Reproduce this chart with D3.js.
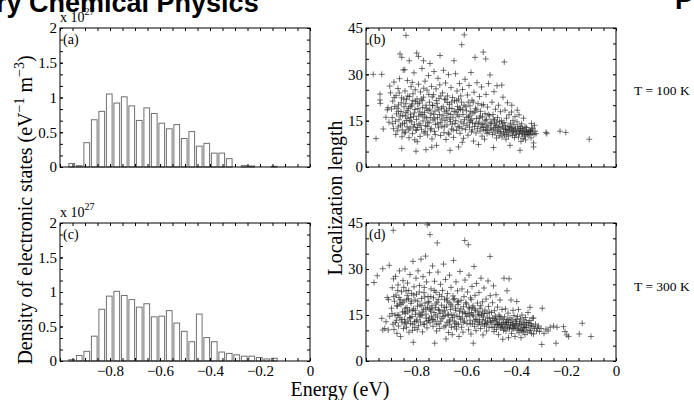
<!DOCTYPE html>
<html>
<head>
<meta charset="utf-8">
<script src="https://cdn.jsdelivr.net/npm/d3@7"></script>
<style>
  body { margin: 0; background: #fff; }
  svg { display: block; }
</style>
</head>
<body>
<svg></svg>
<script>
// histogram bin centres (eV)
let binCenters = [-0.953, -0.923, -0.893, -0.863, -0.833, -0.803, -0.773, -0.743, -0.713, -0.683,
    -0.653, -0.623, -0.593, -0.563, -0.533, -0.503, -0.473, -0.443, -0.413, -0.383,
    -0.353, -0.323, -0.293, -0.263, -0.233, -0.203, -0.173, -0.143];

// density of states, x 10^27, T = 100 K
let dosA = [0.05, 0.02, 0.35, 0.68, 0.80, 1.05, 0.92, 1.01, 0.88, 0.67,
    0.85, 0.77, 0.63, 0.55, 0.61, 0.41, 0.51, 0.30, 0.34, 0.20,
    0.20, 0.12, 0, 0.02, 0.015, 0, 0, 0.01];

// density of states, x 10^27, T = 300 K
let dosC = [0.02, 0.08, 0.14, 0.36, 0.75, 0.94, 1.01, 0.95, 0.89, 0.78,
    0.83, 0.64, 0.65, 0.73, 0.55, 0.43, 0.28, 0.68, 0.34, 0.28,
    0.13, 0.11, 0.09, 0.07, 0.07, 0.05, 0.03, 0.04];

// [energy, localization length], T = 100 K
let locB = [
    [-0.971,30.0],[-0.937,30.0],[-0.96,9.2],[-0.931,12.3],[-0.944,23.6],[-0.944,21.7],[-0.943,20.6],[-0.915,18.5],[-0.92,16.1],[-0.912,19.2],[-0.905,26.2],[-0.908,14.5],[-0.902,24.0],
    [-0.898,18.8],[-0.895,16.0],[-0.893,21.3],[-0.89,12.4],[-0.888,27.5],[-0.885,19.6],[-0.882,14.8],[-0.88,23.1],[-0.878,17.2],[-0.875,11.7],[-0.872,25.4],[-0.87,20.1],[-0.868,15.3],[-0.866,28.6],[-0.862,13.5],[-0.86,18.0],[-0.858,22.4],[-0.856,9.8],[-0.853,16.7],[-0.851,31.4],[-0.864,36.6],[-0.857,35.5],[-0.857,6.0],[-0.84,42.6],[-0.855,12.0],[-0.87,17.9],
    [-0.848,19.5],[-0.846,14.2],[-0.844,24.6],[-0.842,11.3],[-0.84,17.6],[-0.838,21.9],[-0.836,13.0],[-0.834,28.0],[-0.832,15.8],[-0.83,19.0],[-0.828,9.5],[-0.827,34.4],[-0.826,22.8],[-0.824,12.6],[-0.822,17.1],[-0.82,26.0],[-0.818,14.6],[-0.816,20.4],[-0.814,10.8],[-0.812,23.7],[-0.81,16.3],[-0.808,30.5],[-0.806,13.7],[-0.804,18.6],[-0.802,21.2],[-0.8,5.1],[-0.8,11.9],[-0.845,31.5],[-0.835,18.2],[-0.825,15.0],[-0.815,27.4],[-0.805,8.8],[-0.843,16.5],[-0.817,19.8],
    [-0.798,15.4],[-0.797,36.9],[-0.796,22.0],[-0.794,12.8],[-0.79,35.8],[-0.792,18.9],[-0.79,26.8],[-0.788,14.0],[-0.786,20.7],[-0.784,9.9],[-0.782,24.3],[-0.78,16.9],[-0.778,12.2],[-0.776,31.9],[-0.774,19.3],[-0.772,14.9],[-0.77,34.4],[-0.77,22.6],[-0.768,11.0],[-0.766,17.7],[-0.764,27.8],[-0.762,13.4],[-0.76,5.6],[-0.76,20.0],[-0.758,15.9],[-0.756,24.9],[-0.754,10.4],[-0.752,18.3],[-0.75,29.6],[-0.785,17.8],[-0.775,21.5],[-0.765,16.2],[-0.755,13.1],[-0.795,8.2],
    [-0.748,14.3],[-0.746,21.0],[-0.744,33.5],[-0.742,12.0],[-0.74,17.4],[-0.738,26.1],[-0.736,9.1],[-0.734,19.9],[-0.732,15.2],[-0.73,23.4],[-0.728,30.9],[-0.726,11.5],[-0.724,18.1],[-0.722,13.8],[-0.72,25.3],[-0.718,7.0],[-0.716,20.6],[-0.714,16.0],[-0.712,28.7],[-0.71,12.7],[-0.708,22.2],[-0.706,17.0],[-0.704,36.1],[-0.703,14.4],[-0.702,10.2],[-0.745,18.7],[-0.735,22.7],[-0.725,15.6],[-0.715,19.4],[-0.705,26.6],[-0.737,6.4],
    [-0.698,19.0],[-0.696,13.2],[-0.694,24.0],[-0.692,16.6],[-0.69,31.3],[-0.688,11.1],[-0.686,21.8],[-0.684,15.0],[-0.682,27.2],[-0.68,8.9],[-0.678,18.4],[-0.676,13.6],[-0.674,23.0],[-0.672,17.3],[-0.67,29.9],[-0.668,10.6],[-0.666,20.3],[-0.664,5.4],[-0.662,14.7],[-0.66,25.7],[-0.658,12.3],[-0.656,18.9],[-0.654,22.5],[-0.652,16.1],[-0.648,34.4],[-0.65,9.6],[-0.685,17.9],[-0.675,20.9],[-0.665,15.5],[-0.655,13.9],
    [-0.646,21.4],[-0.644,14.1],[-0.642,30.2],[-0.64,17.8],[-0.638,11.8],[-0.636,24.6],[-0.634,19.6],[-0.632,13.0],[-0.63,6.5],[-0.63,22.0],[-0.628,16.4],[-0.626,27.0],[-0.624,10.9],[-0.622,18.6],[-0.62,14.6],[-0.618,21.0],[-0.617,39.6],[-0.616,12.5],[-0.614,25.1],[-0.612,17.0],[-0.61,9.3],[-0.607,42.8],[-0.608,20.0],[-0.606,15.3],[-0.604,28.4],[-0.602,12.1],[-0.635,16.9],[-0.625,19.1],[-0.615,8.0],
    [-0.598,18.2],[-0.596,13.5],[-0.594,23.3],[-0.592,10.3],[-0.59,16.3],[-0.588,26.4],[-0.586,12.9],[-0.584,19.8],[-0.582,15.0],[-0.58,30.6],[-0.578,11.4],[-0.576,21.6],[-0.574,14.3],[-0.572,17.5],[-0.57,8.4],[-0.568,24.2],[-0.566,13.1],[-0.564,35.5],[-0.562,19.0],[-0.56,11.0],[-0.558,15.7],[-0.556,27.3],[-0.554,12.4],[-0.552,20.5],[-0.55,7.3],[-0.585,16.8],[-0.575,12.0],[-0.565,17.8],
    [-0.548,14.5],[-0.546,22.8],[-0.544,11.6],[-0.542,18.0],[-0.54,13.0],[-0.538,25.9],[-0.536,10.0],[-0.534,16.2],[-0.531,37.2],[-0.532,12.8],[-0.53,20.2],[-0.528,14.0],[-0.526,9.0],[-0.524,17.3],[-0.521,35.0],[-0.522,12.0],[-0.52,23.5],[-0.518,15.4],[-0.516,10.8],[-0.514,19.4],[-0.512,13.5],[-0.51,27.0],[-0.508,11.2],[-0.506,16.6],[-0.504,29.8],[-0.502,12.6],[-0.545,15.9],[-0.535,13.8],[-0.515,11.9],
    [-0.498,14.1],[-0.496,21.0],[-0.494,10.5],[-0.492,17.0],[-0.49,6.3],[-0.49,12.3],[-0.488,24.4],[-0.486,15.2],[-0.484,11.0],[-0.482,18.7],[-0.48,13.4],[-0.478,9.4],[-0.476,26.3],[-0.474,16.0],[-0.472,12.0],[-0.47,20.0],[-0.468,10.1],[-0.466,14.7],[-0.464,12.9],[-0.462,17.9],[-0.46,11.5],[-0.457,26.5],[-0.458,15.0],[-0.456,9.7],[-0.454,13.0],[-0.452,22.6],[-0.45,11.0],[-0.447,34.0],[-0.485,13.9],[-0.475,11.6],
    [-0.448,14.4],[-0.446,10.4],[-0.444,18.4],[-0.442,12.2],[-0.44,9.0],[-0.438,15.8],[-0.436,11.3],[-0.434,20.8],[-0.432,13.1],[-0.43,10.0],[-0.428,16.9],[-0.426,12.0],[-0.424,7.0],[-0.422,14.2],[-0.42,11.0],[-0.417,20.0],[-0.418,17.8],[-0.416,12.8],[-0.414,10.2],[-0.412,15.0],[-0.41,11.6],[-0.408,13.7],[-0.406,9.5],[-0.404,16.3],[-0.402,12.4],[-0.44,11.9],
    [-0.398,11.0],[-0.395,18.4],[-0.396,14.6],[-0.392,12.0],[-0.39,9.7],[-0.388,16.9],[-0.386,10.9],[-0.384,5.4],[-0.384,13.2],[-0.382,11.8],[-0.38,8.3],[-0.378,14.0],[-0.376,10.6],[-0.374,12.5],[-0.372,9.2],[-0.37,15.8],[-0.368,11.3],[-0.366,10.0],[-0.364,13.0],[-0.362,8.8],[-0.36,11.7],[-0.358,12.8],[-0.355,10.4],[-0.352,11.1],
    [-0.348,12.0],[-0.345,10.7],[-0.342,11.5],[-0.34,9.4],[-0.338,14.1],[-0.335,11.0],[-0.333,12.6],[-0.33,7.8],[-0.33,6.5],[-0.328,10.5],[-0.326,13.5],[-0.324,11.6],[-0.32,10.8],
    [-0.277,10.8],[-0.28,11.2],[-0.224,11.6],[-0.201,11.2],[-0.107,9.0],
    [-0.893,14.0],[-0.887,22.5],[-0.881,10.5],[-0.876,19.0],[-0.871,13.0],[-0.867,24.0],[-0.863,16.5],[-0.859,20.8],[-0.854,14.0],[-0.849,22.0],[-0.847,11.0],[-0.841,20.5],[-0.839,15.0],[-0.833,23.0],[-0.829,12.0],[-0.823,19.5],[-0.821,16.0],[-0.813,21.5],[-0.811,13.0],[-0.807,17.5],
    [-0.803,25.0],[-0.799,12.0],[-0.793,20.5],[-0.789,16.5],[-0.783,13.5],[-0.779,22.0],[-0.773,17.0],[-0.769,25.5],[-0.763,11.5],[-0.759,19.0],[-0.753,14.5],[-0.749,23.5],[-0.743,16.0],[-0.739,12.5],[-0.733,20.0],[-0.729,17.0],[-0.723,10.5],[-0.719,21.5],[-0.713,14.0],[-0.709,18.5],
    [-0.701,23.0],[-0.697,15.5],[-0.691,19.5],[-0.687,13.0],[-0.681,22.0],[-0.677,16.0],[-0.671,11.0],[-0.667,19.0],[-0.661,17.0],[-0.657,21.0],[-0.651,12.0],[-0.647,18.0],[-0.641,15.0],[-0.637,21.5],[-0.631,18.5],[-0.627,13.0],[-0.621,23.0],[-0.613,18.5],[-0.609,14.0],[-0.601,19.5],
    [-0.597,16.0],[-0.591,21.0],[-0.587,14.5],[-0.581,18.0],[-0.577,15.5],[-0.571,21.0],[-0.563,14.0],[-0.557,18.5],[-0.551,14.0],[-0.543,16.5],[-0.537,20.0],[-0.529,12.0],[-0.523,15.0],[-0.517,13.0],[-0.511,17.0],[-0.503,14.5],[-0.497,12.0],[-0.491,15.5],[-0.483,12.8],[-0.477,14.5],
    [-0.469,13.0],[-0.463,11.0],[-0.455,14.0],[-0.449,12.5],[-0.443,13.5],[-0.437,10.5],[-0.431,12.0],[-0.425,13.0],[-0.419,12.5],[-0.413,11.5],[-0.407,12.0],[-0.401,10.5],[-0.393,13.0],[-0.387,11.5],[-0.381,12.5],[-0.375,11.0],[-0.369,12.0],[-0.363,10.5],[-0.357,11.5],[-0.349,10.5],[-0.341,11.8],[-0.337,12.3]
];

// [energy, localization length], T = 300 K
let locD = [
    [-0.968,25.6],[-0.955,27.8],[-0.933,30.1],[-0.907,31.2],[-0.937,13.9],[-0.933,10.1],[-0.911,10.1],[-0.915,20.7],[-0.91,20.0],[-0.92,12.8],[-0.905,14.6],[-0.925,10.6],
    [-0.891,42.6],[-0.898,17.2],[-0.895,23.9],[-0.892,12.0],[-0.89,26.8],[-0.888,10.3],[-0.886,19.5],[-0.884,15.0],[-0.882,27.6],[-0.88,21.5],[-0.878,13.3],[-0.876,9.0],[-0.874,17.9],[-0.872,24.8],[-0.87,11.4],[-0.868,20.7],[-0.866,29.4],[-0.864,14.1],[-0.862,8.0],[-0.86,18.4],[-0.858,22.6],[-0.856,12.7],[-0.854,16.0],[-0.852,26.2],[-0.85,10.6],[-0.875,14.9],[-0.865,18.9],
    [-0.848,19.6],[-0.846,13.6],[-0.844,30.0],[-0.842,15.5],[-0.84,22.9],[-0.838,11.0],[-0.836,17.4],[-0.834,25.4],[-0.832,13.0],[-0.83,20.3],[-0.828,9.4],[-0.826,16.6],[-0.824,28.2],[-0.822,12.2],[-0.82,18.8],[-0.818,22.0],[-0.816,14.5],[-0.814,10.0],[-0.812,32.5],[-0.811,6.1],[-0.81,17.0],[-0.808,24.2],[-0.806,12.8],[-0.804,19.9],[-0.802,15.2],[-0.8,27.0],[-0.845,12.1],[-0.835,21.4],[-0.825,14.2],[-0.815,16.4],[-0.805,10.9],[-0.843,17.2],
    [-0.798,21.8],[-0.796,13.4],[-0.794,17.9],[-0.792,29.4],[-0.79,11.5],[-0.788,15.6],[-0.786,24.6],[-0.784,18.3],[-0.782,12.7],[-0.78,33.2],[-0.778,20.4],[-0.776,14.9],[-0.774,9.5],[-0.772,27.5],[-0.77,16.7],[-0.768,22.3],[-0.766,12.0],[-0.764,18.9],[-0.762,34.2],[-0.76,14.0],[-0.758,25.8],[-0.756,10.8],[-0.755,44.4],[-0.754,17.5],[-0.752,21.0],[-0.75,13.2],[-0.785,14.4],[-0.775,16.0],[-0.765,20.9],[-0.795,10.2],[-0.76,15.3],
    [-0.748,19.4],[-0.746,28.8],[-0.744,41.2],[-0.744,12.5],[-0.742,16.3],[-0.74,23.5],[-0.738,14.6],[-0.736,18.0],[-0.734,31.0],[-0.732,11.3],[-0.73,20.6],[-0.728,15.8],[-0.726,26.0],[-0.725,5.8],[-0.724,13.0],[-0.722,17.4],[-0.72,22.4],[-0.718,9.8],[-0.716,19.2],[-0.715,38.5],[-0.714,14.3],[-0.712,29.0],[-0.71,16.8],[-0.708,12.1],[-0.706,21.6],[-0.704,15.5],[-0.702,25.0],[-0.745,16.9],[-0.735,13.6],[-0.72,18.6],[-0.705,10.6],
    [-0.698,18.2],[-0.696,13.8],[-0.694,23.0],[-0.692,16.0],[-0.69,31.6],[-0.688,11.1],[-0.686,20.0],[-0.684,14.8],[-0.682,26.6],[-0.68,7.2],[-0.678,17.6],[-0.676,12.6],[-0.674,22.0],[-0.672,15.3],[-0.67,9.3],[-0.668,19.0],[-0.666,28.0],[-0.664,13.4],[-0.662,16.8],[-0.66,24.0],[-0.658,11.0],[-0.656,17.9],[-0.654,14.1],[-0.652,21.2],[-0.65,32.8],[-0.685,16.4],[-0.675,19.6],[-0.665,12.0],[-0.655,8.6],
    [-0.648,15.0],[-0.646,20.4],[-0.644,12.4],[-0.642,17.2],[-0.64,25.8],[-0.638,10.4],[-0.636,14.6],[-0.634,22.9],[-0.632,18.4],[-0.63,12.0],[-0.628,8.0],[-0.626,16.2],[-0.624,29.2],[-0.622,13.6],[-0.62,19.8],[-0.618,11.0],[-0.616,23.5],[-0.614,15.7],[-0.612,9.4],[-0.61,17.7],[-0.608,21.0],[-0.605,39.3],[-0.606,13.0],[-0.604,26.4],[-0.602,15.4],[-0.645,11.2],[-0.635,19.2],[-0.615,14.0],
    [-0.598,18.6],[-0.596,12.2],[-0.594,22.5],[-0.591,37.9],[-0.592,15.5],[-0.59,10.2],[-0.588,28.0],[-0.586,17.0],[-0.584,13.3],[-0.582,20.6],[-0.58,8.8],[-0.578,15.8],[-0.576,24.3],[-0.574,12.3],[-0.572,18.0],[-0.571,5.8],[-0.57,14.6],[-0.568,30.8],[-0.566,11.3],[-0.564,21.4],[-0.562,16.5],[-0.56,9.9],[-0.558,25.3],[-0.556,13.6],[-0.554,18.9],[-0.552,11.9],[-0.55,15.2],[-0.585,15.0],[-0.575,17.4],[-0.565,13.0],
    [-0.548,22.3],[-0.546,13.0],[-0.544,17.2],[-0.542,10.6],[-0.54,27.0],[-0.538,15.0],[-0.536,12.0],[-0.534,19.3],[-0.532,8.5],[-0.53,14.4],[-0.528,23.8],[-0.526,11.4],[-0.524,16.6],[-0.522,13.1],[-0.52,20.2],[-0.518,9.8],[-0.516,15.5],[-0.514,12.5],[-0.512,26.1],[-0.51,17.8],[-0.508,11.0],[-0.506,14.0],[-0.504,34.1],[-0.503,21.3],[-0.502,12.8],[-0.545,14.9],[-0.535,16.0],[-0.525,12.2],
    [-0.498,15.8],[-0.496,11.0],[-0.494,19.0],[-0.492,13.2],[-0.49,24.5],[-0.488,9.6],[-0.486,16.4],[-0.484,12.0],[-0.482,14.6],[-0.48,21.6],[-0.478,10.3],[-0.476,13.5],[-0.474,17.6],[-0.472,11.7],[-0.47,8.6],[-0.468,15.0],[-0.466,12.4],[-0.464,19.9],[-0.462,10.8],[-0.46,14.0],[-0.458,12.0],[-0.456,16.8],[-0.453,7.1],[-0.454,11.2],[-0.452,13.6],[-0.448,27.0],[-0.45,10.0],[-0.485,13.9],[-0.475,11.9],
    [-0.446,14.4],[-0.444,11.8],[-0.442,17.0],[-0.44,9.8],[-0.438,13.0],[-0.436,22.9],[-0.434,11.0],[-0.432,15.6],[-0.43,12.6],[-0.428,26.8],[-0.426,10.5],[-0.424,14.0],[-0.422,11.6],[-0.42,19.9],[-0.418,9.0],[-0.416,13.4],[-0.414,12.0],[-0.412,16.5],[-0.41,10.6],[-0.408,14.8],[-0.406,11.4],[-0.404,8.0],[-0.402,13.0],[-0.43,7.6],[-0.44,12.5],
    [-0.397,19.4],[-0.398,12.2],[-0.396,10.0],[-0.394,14.5],[-0.392,11.5],[-0.39,16.8],[-0.388,9.2],[-0.386,12.8],[-0.384,10.4],[-0.382,13.8],[-0.38,7.6],[-0.378,11.8],[-0.376,15.0],[-0.374,10.0],[-0.372,12.4],[-0.37,9.6],[-0.368,13.4],[-0.366,11.0],[-0.364,8.6],[-0.362,14.2],[-0.36,10.8],[-0.358,12.6],[-0.355,9.4],[-0.352,15.8],
    [-0.344,17.5],[-0.348,11.6],[-0.345,13.2],[-0.342,10.0],[-0.34,12.2],[-0.338,9.0],[-0.335,14.0],[-0.332,11.2],[-0.33,14.0],[-0.33,8.8],[-0.326,10.6],[-0.322,12.0],[-0.318,9.8],[-0.314,10.8],[-0.31,11.4],[-0.306,9.6],
    [-0.297,5.4],[-0.295,17.2],[-0.3,10.6],[-0.288,9.0],[-0.28,10.4],[-0.272,9.8],[-0.263,11.0],[-0.25,11.4],[-0.24,5.8],[-0.236,11.0],[-0.21,11.2],[-0.204,9.6],[-0.197,8.5],[-0.19,8.0],[-0.147,8.8],[-0.135,12.3],[-0.1,8.0],
    [-0.896,15.5],[-0.889,21.0],[-0.883,12.5],[-0.877,18.0],[-0.873,23.0],[-0.869,15.0],[-0.863,20.0],[-0.857,13.5],[-0.853,19.0],[-0.849,24.0],[-0.847,16.0],[-0.841,12.5],[-0.837,20.0],[-0.833,16.0],[-0.829,23.0],[-0.823,14.0],[-0.819,19.5],[-0.813,12.0],[-0.809,21.5],[-0.803,16.5],
    [-0.799,13.0],[-0.793,19.5],[-0.787,22.5],[-0.781,15.0],[-0.777,18.0],[-0.771,12.0],[-0.767,24.0],[-0.761,17.0],[-0.757,13.0],[-0.751,19.0],[-0.747,14.0],[-0.741,21.0],[-0.737,17.0],[-0.731,13.5],[-0.727,23.0],[-0.721,15.0],[-0.717,12.0],[-0.711,20.0],[-0.707,16.5],[-0.701,13.0],
    [-0.697,21.0],[-0.691,14.5],[-0.687,17.5],[-0.681,11.5],[-0.677,20.5],[-0.671,15.0],[-0.667,13.0],[-0.661,18.5],[-0.657,15.0],[-0.651,20.0],[-0.647,13.0],[-0.641,16.5],[-0.637,12.0],[-0.631,19.5],[-0.627,14.5],[-0.621,17.0],[-0.611,12.5],[-0.607,16.0],[-0.601,19.0],[-0.597,14.5],
    [-0.589,17.5],[-0.583,12.0],[-0.579,20.0],[-0.573,15.0],[-0.567,17.0],[-0.561,13.5],[-0.553,16.0],[-0.547,12.5],[-0.541,18.0],[-0.533,13.5],[-0.527,15.5],[-0.519,12.0],[-0.513,14.0],[-0.507,16.0],[-0.499,12.5],[-0.493,14.0],[-0.487,11.0],[-0.479,13.0],[-0.471,12.0],[-0.465,14.5],
    [-0.459,11.0],[-0.451,12.5],[-0.445,10.5],[-0.439,12.0],[-0.433,13.5],[-0.427,11.0],[-0.421,12.5],[-0.415,10.5],[-0.409,12.0],[-0.403,11.0],[-0.399,13.5],[-0.391,10.5],[-0.385,12.0],[-0.379,10.0],[-0.371,11.0],[-0.365,12.0],[-0.359,11.0],[-0.351,12.5],[-0.347,10.0],[-0.339,11.5]
];

let energyTicks = [-0.8, -0.6, -0.4, -0.2, 0];
let dosTicks = [0, 0.5, 1, 1.5, 2];
let lengthTicks = [0, 15, 30, 45];

let width = 694;
let height = 400;
let serif = "'Liberation Serif', 'Times New Roman', serif";

let svg = d3.select("svg")
    .attr("width", width)
    .attr("height", height)
    .style("background", "#fff");

// panel boxes
let leftX = [60, 310];
let rightX = [366, 616];
let topY = [28, 167];
let botY = [223, 361];

let fmtTick = d => d === 0 ? "0" : d3.format("")(d).replace("-", "\u2212");

let drawFrame = (g, xScale, yScale, yTicks, yMinorStep, label, showXLabels) => {
    let [x0, x1] = xScale.range();
    let [yBottom, yTop] = yScale.range();
    let xMinor = xScale.ticks(20);
    let yMinor = d3.range(yScale.domain()[0], yScale.domain()[1] + 1e-9, yMinorStep);

    let addAxis = (axis, transform, labels) => {
        let a = g.append("g")
            .attr("transform", transform)
            .call(axis);
        a.select(".domain").remove();
        a.selectAll("line").attr("stroke", "#000");
        a.attr("font-family", serif).attr("font-size", 15);
        a.selectAll("text").attr("fill", "#000");
        if (!labels) a.selectAll("text").remove();
        return a;
    };

    // minor ticks on all four sides, pointing inward
    addAxis(d3.axisBottom(xScale).tickValues(xMinor).tickSizeInner(-3).tickSizeOuter(0), `translate(0,${yBottom})`, false);
    addAxis(d3.axisTop(xScale).tickValues(xMinor).tickSizeInner(-3).tickSizeOuter(0), `translate(0,${yTop})`, false);
    addAxis(d3.axisLeft(yScale).tickValues(yMinor).tickSizeInner(-3).tickSizeOuter(0), `translate(${x0},0)`, false);
    addAxis(d3.axisRight(yScale).tickValues(yMinor).tickSizeInner(-3).tickSizeOuter(0), `translate(${x1},0)`, false);

    // labelled ticks
    addAxis(
        d3.axisBottom(xScale).tickValues(energyTicks).tickSizeInner(-3).tickSizeOuter(0).tickPadding(4).tickFormat(fmtTick),
        `translate(0,${yBottom})`, showXLabels);
    addAxis(
        d3.axisLeft(yScale).tickValues(yTicks).tickSizeInner(-3).tickSizeOuter(0).tickPadding(3).tickFormat(fmtTick),
        `translate(${x0},0)`, true);

    g.append("rect")
        .attr("x", x0)
        .attr("y", yTop)
        .attr("width", x1 - x0)
        .attr("height", yBottom - yTop)
        .attr("fill", "none")
        .attr("stroke", "#000")
        .attr("stroke-width", 1);

    g.append("text")
        .attr("x", x0 + 3)
        .attr("y", yTop + 16)
        .attr("font-family", serif)
        .attr("font-size", 14)
        .text(label);
};

let drawHist = (values, xr, yr, label) => {
    let g = svg.append("g");
    let xScale = d3.scaleLinear().domain([-1, 0]).range(xr);
    let yScale = d3.scaleLinear().domain([0, 2]).range([yr[1], yr[0]]);
    let barW = (xScale(0.03) - xScale(0)) * 0.76;

    let bins = binCenters
        .map((c, i) => ({ c: c, v: values[i] }))
        .filter(d => d.v > 0);

    g.selectAll("rect.bin")
        .data(bins)
        .enter()
        .append("rect")
        .attr("class", "bin")
        .attr("x", d => xScale(d.c) - barW / 2)
        .attr("y", d => yScale(d.v))
        .attr("width", barW)
        .attr("height", d => yScale(0) - yScale(d.v))
        .attr("fill", "#fff")
        .attr("stroke", "#707070")
        .attr("stroke-width", 1);

    drawFrame(g, xScale, yScale, dosTicks, 0.5 / 3, label, label === "(c)");

    // exponent label
    let t = g.append("text")
        .attr("x", xr[0])
        .attr("y", yr[0] - 6)
        .attr("font-family", serif)
        .attr("font-size", 14);
    t.append("tspan").text("x 10");
    t.append("tspan").attr("dy", -7).attr("font-size", 10).text("27");
};

let drawScatter = (points, xr, yr, label) => {
    let g = svg.append("g");
    let xScale = d3.scaleLinear().domain([-1, 0]).range(xr);
    let yScale = d3.scaleLinear().domain([0, 45]).range([yr[1], yr[0]]);

    g.selectAll("path.pt")
        .data(points)
        .enter()
        .append("path")
        .attr("class", "pt")
        .attr("d", "M-3,0H3M0,-3V3")
        .attr("transform", d => `translate(${xScale(d[0])},${yScale(d[1])})`)
        .attr("fill", "none")
        .attr("stroke", "#2a2a2a")
        .attr("stroke-opacity", 0.72)
        .attr("stroke-width", 0.9);

    drawFrame(g, xScale, yScale, lengthTicks, 5, label, label === "(d)");
};

drawHist(dosA, leftX, topY, "(a)");
drawHist(dosC, leftX, botY, "(c)");
drawScatter(locB, rightX, topY, "(b)");
drawScatter(locD, rightX, botY, "(d)");

// page header fragments
svg.append("text")
    .attr("x", -4)
    .attr("y", 12)
    .attr("font-family", "'Liberation Sans', Arial, sans-serif")
    .attr("font-weight", "bold")
    .attr("font-size", 27)
    .text("ry Chemical Physics");

svg.append("text")
    .attr("x", 675)
    .attr("y", 9)
    .attr("font-family", "'Liberation Sans', Arial, sans-serif")
    .attr("font-weight", "bold")
    .attr("font-size", 27)
    .text("P");

// axis titles
let yTitle = svg.append("text")
    .attr("transform", "translate(32,210) rotate(-90)")
    .attr("text-anchor", "middle")
    .attr("font-family", serif)
    .attr("font-size", 20);
yTitle.append("tspan").text("Density of electronic states (eV");
yTitle.append("tspan").attr("dy", -8).attr("font-size", 14).text("\u22121");
yTitle.append("tspan").attr("dy", 8).text(" m");
yTitle.append("tspan").attr("dy", -8).attr("font-size", 14).text("\u22123");
yTitle.append("tspan").attr("dy", 8).text(")");

svg.append("text")
    .attr("transform", "translate(342,198) rotate(-90)")
    .attr("text-anchor", "middle")
    .attr("font-family", serif)
    .attr("font-size", 20)
    .text("Localization length");

svg.append("text")
    .attr("x", 340)
    .attr("y", 396)
    .attr("text-anchor", "middle")
    .attr("font-family", serif)
    .attr("font-size", 20)
    .text("Energy (eV)");

svg.append("text")
    .attr("x", 634)
    .attr("y", 95)
    .attr("font-family", serif)
    .attr("font-size", 13.5)
    .text("T = 100 K");

svg.append("text")
    .attr("x", 634)
    .attr("y", 291)
    .attr("font-family", serif)
    .attr("font-size", 13.5)
    .text("T = 300 K");
</script>
</body>
</html>
